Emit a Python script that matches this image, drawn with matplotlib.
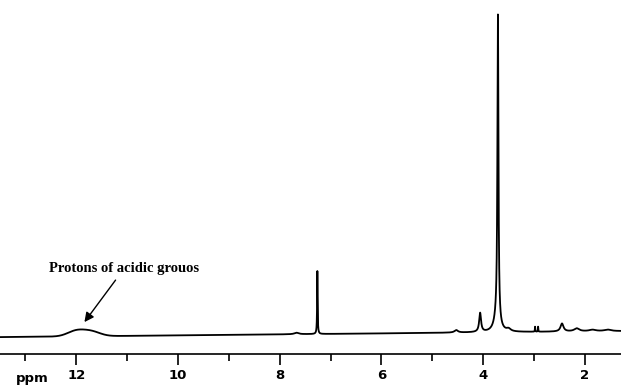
import numpy as np
import matplotlib.pyplot as plt

# peak list (ppm, height, half width)
peak_ppm = [12.0, 11.7, 7.67, 7.26, 4.53, 4.06, 3.71, 3.73, 3.50, 2.98, 2.92, 2.45, 2.16, 1.85, 1.55]
peak_height = [5.5, 4.5, 1.5, 63, 2.5, 19, 305, 14, 2.5, 5, 5, 8, 3, 1.5, 1.5]
peak_width = [0.17, 0.17, 0.05, 0.006, 0.04, 0.022, 0.012, 0.06, 0.05, 0.004, 0.004, 0.035, 0.06, 0.08, 0.08]
baseline_left = -2.0   # baseline drift at the left edge
baseline_right = 4.0   # and at the right edge

tick_major = [12, 10, 8, 6, 4, 2]
tick_minor = [13, 11, 9, 7, 5, 3]
label = "Protons of acidic grouos"

x_left, x_right = 13.5, 1.29
ppm = np.linspace(x_left, x_right, 12000)
y = baseline_left + (baseline_right - baseline_left) * (x_left - ppm) / (x_left - x_right)
for p, h, w in zip(peak_ppm, peak_height, peak_width):
    if w > 0.15:
        y += h * np.exp(-0.5 * ((ppm - p) / w) ** 2)
    else:
        y += h / (1 + ((ppm - p) / w) ** 2)

fig = plt.figure(figsize=(6.21, 3.87), dpi=100)
ax = fig.add_axes([0, 0.085, 1, 0.915])
ax.plot(ppm, y, color='black', lw=1.3)
ax.set_xlim(x_left, x_right)
ax.set_ylim(-19, 335)

for s in ['top', 'left', 'right']:
    ax.spines[s].set_visible(False)
ax.spines['bottom'].set_linewidth(1.2)
ax.set_yticks([])
ax.set_xticks(tick_major)
ax.set_xticks(tick_minor, minor=True)
ax.set_xticklabels([str(t) for t in tick_major], fontsize=9.5, fontweight='semibold', family='DejaVu Sans')
ax.tick_params(axis='x', which='major', direction='out', length=8, width=1.2, pad=3)
ax.tick_params(axis='x', which='minor', direction='out', length=5, width=1.2)

fig.text(0.025, 0.012, 'ppm', fontsize=9.5, fontweight='semibold', family='DejaVu Sans')

ax.annotate(label, xy=(11.84, 13), xytext=(11.06, 60),
            ha='center', va='bottom', fontsize=10.5, fontweight='bold',
            family='Liberation Serif',
            arrowprops=dict(arrowstyle='-|>', color='black', lw=1.0,
                            mutation_scale=14, shrinkA=2, shrinkB=0))

fig.savefig('out.png', dpi=100)
